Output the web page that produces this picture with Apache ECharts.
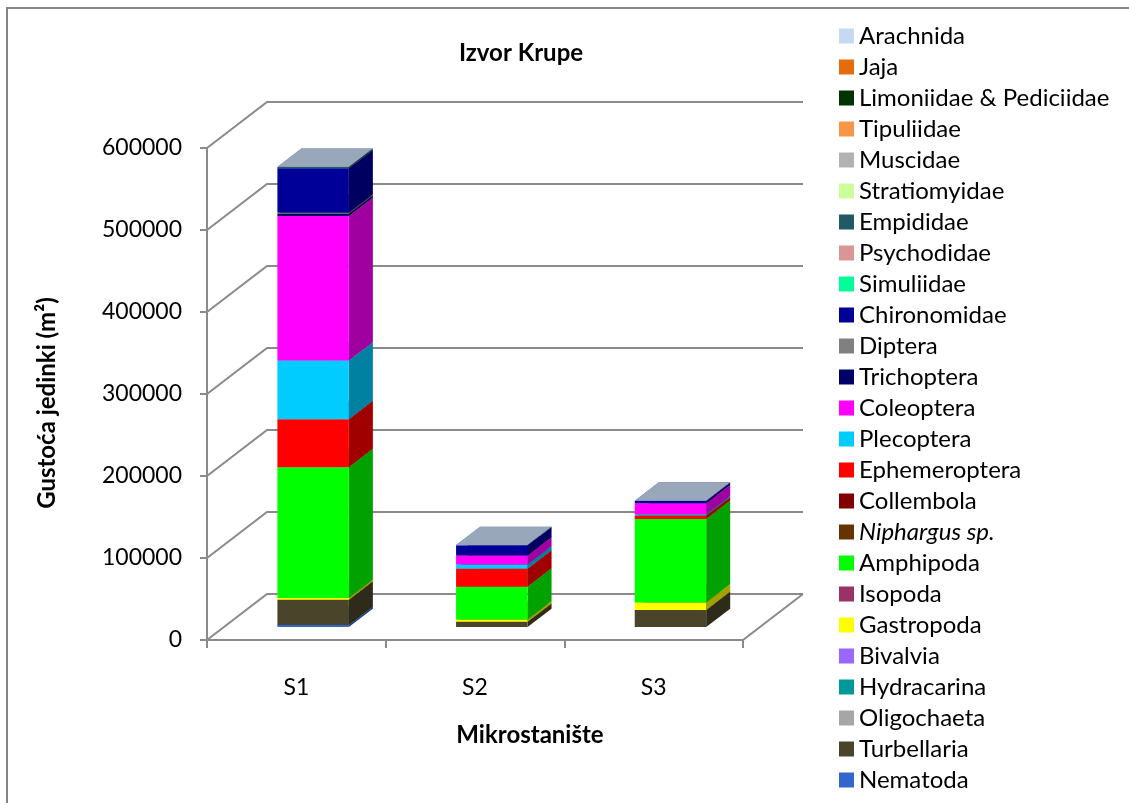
<!DOCTYPE html>
<html>
<head>
<meta charset="utf-8">
<script src="https://cdn.jsdelivr.net/npm/echarts@6/dist/echarts.min.js"></script>
<style>
  html, body { margin: 0; padding: 0; background: #fff; }
  #chart { width: 1129px; height: 803px; }
</style>
</head>
<body>
<div id="chart"></div>
<script>
const categories = ['S1', 'S2', 'S3'];
const yTicks = [0, 100000, 200000, 300000, 400000, 500000, 600000];

// gustoća jedinki po mikrostaništu: S1, S2, S3
const nematoda = [2500, 0, 0];
const turbellaria = [31000, 6500, 21000];
const oligochaeta = [0, 0, 0];
const hydracarina = [0, 0, 0];
const bivalvia = [0, 0, 0];
const gastropoda = [2000, 2800, 9000];
const isopoda = [0, 0, 0];
const amphipoda = [159500, 40000, 102000];
const niphargus = [0, 0, 0];
const collembola = [0, 0, 0];
const ephemeroptera = [58500, 22000, 4000];
const plecoptera = [71500, 5000, 1500];
const coleoptera = [176500, 11000, 13500];
const trichoptera = [2500, 1500, 0];
const diptera = [1500, 0, 0];
const chironomidae = [54000, 11000, 2800];
const simuliidae = [0, 0, 0];
const psychodidae = [0, 0, 0];
const empididae = [1500, 0, 0];
const stratiomyidae = [0, 0, 0];
const muscidae = [0, 0, 0];
const tipuliidae = [0, 0, 0];
const limoniidae = [0, 0, 0];
const jaja = [0, 0, 0];
const arachnida = [400, 400, 400];

// redoslijed slaganja odozdo prema gore
const species = [
  ['Nematoda', nematoda],
  ['Turbellaria', turbellaria],
  ['Oligochaeta', oligochaeta],
  ['Hydracarina', hydracarina],
  ['Bivalvia', bivalvia],
  ['Gastropoda', gastropoda],
  ['Isopoda', isopoda],
  ['Amphipoda', amphipoda],
  ['Niphargus sp.', niphargus],
  ['Collembola', collembola],
  ['Ephemeroptera', ephemeroptera],
  ['Plecoptera', plecoptera],
  ['Coleoptera', coleoptera],
  ['Trichoptera', trichoptera],
  ['Diptera', diptera],
  ['Chironomidae', chironomidae],
  ['Simuliidae', simuliidae],
  ['Psychodidae', psychodidae],
  ['Empididae', empididae],
  ['Stratiomyidae', stratiomyidae],
  ['Muscidae', muscidae],
  ['Tipuliidae', tipuliidae],
  ['Limoniidae & Pediciidae', limoniidae],
  ['Jaja', jaja],
  ['Arachnida', arachnida]
];

const colors = {
  'Nematoda': '#3366CC', 'Turbellaria': '#4A442A', 'Oligochaeta': '#A6A6A6',
  'Hydracarina': '#009999', 'Bivalvia': '#9966FF', 'Gastropoda': '#FFFF00',
  'Isopoda': '#993366', 'Amphipoda': '#00FF00', 'Niphargus sp.': '#663300',
  'Collembola': '#800000', 'Ephemeroptera': '#FF0000', 'Plecoptera': '#00CCFF',
  'Coleoptera': '#FF00FF', 'Trichoptera': '#000066', 'Diptera': '#808080',
  'Chironomidae': '#000099', 'Simuliidae': '#00FF99', 'Psychodidae': '#D99694',
  'Empididae': '#215967', 'Stratiomyidae': '#CCFF99', 'Muscidae': '#B2B2B2',
  'Tipuliidae': '#F79646', 'Limoniidae & Pediciidae': '#003300', 'Jaja': '#E46C0A',
  'Arachnida': '#C6D9F1'
};

// 3D izgled (kao Excel)
const DX = 60, DY = -46;
const FRONT = 0.28, DEPTH = 0.4, BAR_W = 0.4;
const GRID_COLOR = '#8a8a8a';
const FONT = 'Lato';

function shade(hex, k) {
  const n = parseInt(hex.slice(1), 16);
  const r = Math.round(((n >> 16) & 255) * k);
  const g = Math.round(((n >> 8) & 255) * k);
  const b = Math.round((n & 255) * k);
  return 'rgb(' + r + ',' + g + ',' + b + ')';
}

function boxRenderer(color, order) {
  return function (params, api) {
    const cat = api.value(0);
    const lo = api.coord([cat, api.value(1)]);
    const hi = api.coord([cat, api.value(2)]);
    const w = api.size([1, 0])[0] * BAR_W;
    const x = lo[0] - w / 2 + DX * FRONT;
    const yB = lo[1] + DY * FRONT;
    const yT = hi[1] + DY * FRONT;
    const dx = DX * DEPTH, dy = DY * DEPTH;
    const z = order * 3;
    return {
      type: 'group',
      children: [
        { type: 'polygon', z2: z,
          shape: { points: [[x + w, yT], [x + w + dx, yT + dy], [x + w + dx, yB + dy], [x + w, yB]] },
          style: { fill: shade(color, 0.63) } },
        { type: 'polygon', z2: z + 1,
          shape: { points: [[x, yT], [x + w, yT], [x + w + dx, yT + dy], [x + dx, yT + dy]] },
          style: { fill: shade(color, 0.77) } },
        { type: 'rect', z2: z + 2,
          shape: { x: x, y: yT, width: w, height: yB - yT },
          style: { fill: color } }
      ]
    };
  };
}

const base = categories.map(() => 0);
const seriesList = [];

seriesList.push({
  type: 'custom',
  name: 'walls',
  silent: true,
  clip: false,
  z: 1,
  data: yTicks.map(v => [0, v]),
  renderItem: function (params, api) {
    const cs = params.coordSys;
    const y = api.coord([0, api.value(1)])[1];
    const x0 = cs.x, x1 = cs.x + cs.width;
    const children = [{
      type: 'polyline',
      shape: { points: [[x0, y], [x0 + DX, y + DY], [x1 + DX, y + DY]] },
      style: { stroke: GRID_COLOR, lineWidth: 2, fill: null }
    }];
    if (api.value(1) === 0) {
      children.push({
        type: 'polyline',
        shape: { points: [[x0, y], [x1, y], [x1 + DX, y + DY]] },
        style: { stroke: GRID_COLOR, lineWidth: 2, fill: null }
      });
    }
    return { type: 'group', children: children };
  }
});

species.forEach(([name, values], i) => {
  const data = [];
  values.forEach((v, c) => {
    if (v > 0) data.push([c, base[c], base[c] + v]);
    base[c] += v;
  });
  seriesList.push({
    type: 'custom',
    name: name,
    clip: false,
    z: 2,
    itemStyle: { color: colors[name] },
    data: data,
    renderItem: boxRenderer(colors[name], i)
  });
});

const chart = echarts.init(document.getElementById('chart'));
chart.setOption({
  animation: false,
  backgroundColor: '#fff',
  grid: { left: 207, top: 148, width: 536, height: 492 },
  xAxis: {
    type: 'category',
    data: categories,
    boundaryGap: true,
    axisLine: { lineStyle: { color: GRID_COLOR, width: 2 } },
    axisTick: { show: true, length: 8, lineStyle: { color: GRID_COLOR, width: 2 } },
    axisLabel: { color: '#000', fontFamily: FONT, fontSize: 23, margin: 36 },
    splitLine: { show: false }
  },
  yAxis: {
    type: 'value',
    min: 0,
    max: 600000,
    interval: 100000,
    axisLine: { show: true, lineStyle: { color: GRID_COLOR, width: 2 } },
    axisTick: { show: true, length: 7, lineStyle: { color: GRID_COLOR, width: 2 } },
    axisLabel: {
      color: '#000', fontFamily: FONT, fontSize: 23, margin: 25,
      formatter: v => String(v)
    },
    splitLine: { show: false }
  },
  legend: {
    orient: 'vertical',
    left: 839,
    top: 24,
    padding: 0,
    icon: 'rect',
    itemWidth: 15,
    itemHeight: 15,
    itemGap: 7,
    selectedMode: false,
    data: species.map(s => s[0]).reverse(),
    formatter: function (name) {
      return name === 'Niphargus sp.' ? '{i|' + name + '}' : name;
    },
    textStyle: {
      color: '#000', fontFamily: FONT, fontSize: 24,
      rich: { i: { fontStyle: 'italic', fontFamily: FONT, fontSize: 24, color: '#000' } }
    }
  },
  graphic: [
    { type: 'rect', silent: true, shape: { x: 7, y: 8, width: 1300, height: 1000 },
      style: { fill: null, stroke: '#868686', lineWidth: 2 } },
    { type: 'text', x: 521, y: 53,
      style: { text: 'Izvor Krupe', font: 'bold 24px ' + FONT, fill: '#000', align: 'center', verticalAlign: 'middle' } },
    { type: 'text', x: 530, y: 735,
      style: { text: 'Mikrostanište', font: 'bold 24px ' + FONT, fill: '#000', align: 'center', verticalAlign: 'middle' } },
    { type: 'text', x: 47, y: 403, rotation: Math.PI / 2,
      style: { text: 'Gustoća jedinki (m²)', font: 'bold 24px ' + FONT, fill: '#000', align: 'center', verticalAlign: 'middle' } }
  ],
  series: seriesList
});
</script>
</body>
</html>
